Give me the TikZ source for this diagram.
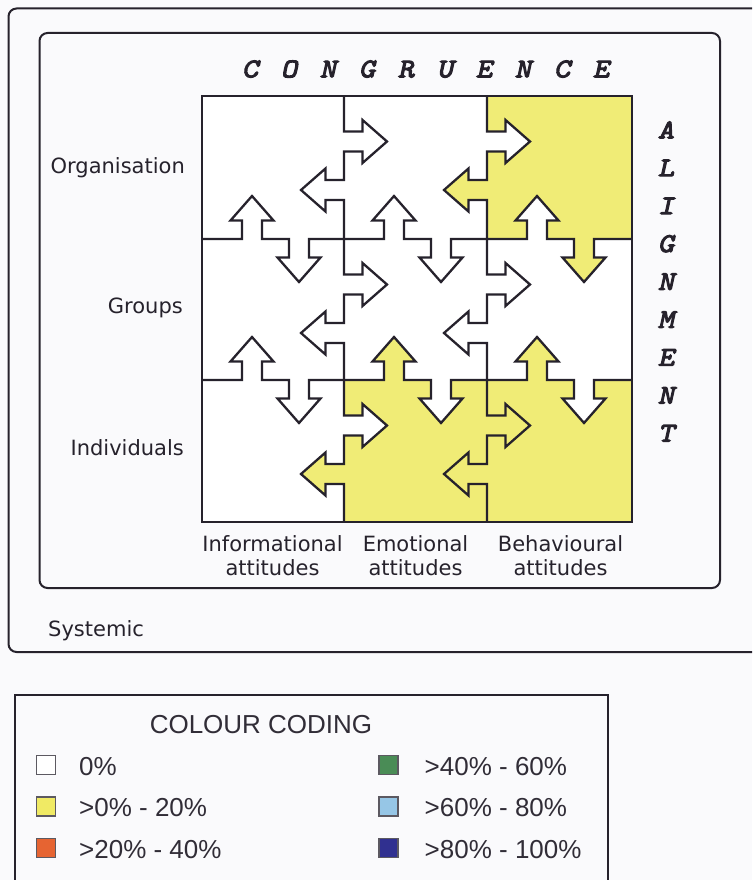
\documentclass[tikz,border=0pt]{standalone}
\usepackage{fontspec}
\setmainfont{DejaVu Sans}
\newfontfamily\keyfamily{Liberation Sans}
\newfontfamily\headfamily{lmmono10-regular}[Extension=.otf, FakeBold=4, FakeSlant=0.22, FakeStretch=1.15]

\definecolor{ink}{RGB}{38,34,44}
\definecolor{paper}{RGB}{250,250,252}
\definecolor{cellyellow}{RGB}{240,236,118}
\definecolor{keyyellow}{RGB}{240,234,100}
\definecolor{keyorange}{RGB}{230,100,50}
\definecolor{keygreen}{RGB}{74,140,86}
\definecolor{keylight}{RGB}{150,198,230}
\definecolor{keynavy}{RGB}{48,48,144}

% arrow-tab dimensions (shaft half width, shaft length, head half width, tip length)
\def\ShW{10}
\def\ShL{18.5}
\def\HdW{21.5}
\def\TpL{43}

% vertical boundary inside one row: x, row top, row bottom
\newcommand\VSeg[3]{%
  \draw[gridline] (#1,#2) -- (#1,#2+45.5-\ShW) -- (#1+\ShL,#2+45.5-\ShW)
    -- (#1+\ShL,#2+45.5-\HdW) -- (#1+\TpL,#2+45.5) -- (#1+\ShL,#2+45.5+\HdW)
    -- (#1+\ShL,#2+45.5+\ShW) -- (#1,#2+45.5+\ShW) -- (#1,#2+94-\ShW)
    -- (#1-\ShL,#2+94-\ShW) -- (#1-\ShL,#2+94-\HdW) -- (#1-\TpL,#2+94)
    -- (#1-\ShL,#2+94+\HdW) -- (#1-\ShL,#2+94+\ShW) -- (#1,#2+94+\ShW) -- (#1,#3);}

% horizontal boundary inside one column: y, column left, column right
\newcommand\HSeg[3]{%
  \draw[gridline] (#2,#1) -- (#2+50-\ShW,#1) -- (#2+50-\ShW,#1-\ShL)
    -- (#2+50-\HdW,#1-\ShL) -- (#2+50,#1-\TpL) -- (#2+50+\HdW,#1-\ShL)
    -- (#2+50+\ShW,#1-\ShL) -- (#2+50+\ShW,#1) -- (#2+97-\ShW,#1)
    -- (#2+97-\ShW,#1+\ShL) -- (#2+97-\HdW,#1+\ShL) -- (#2+97,#1+\TpL)
    -- (#2+97+\HdW,#1+\ShL) -- (#2+97+\ShW,#1+\ShL) -- (#2+97+\ShW,#1) -- (#3,#1);}

% filled tabs: base point on the boundary, colour
\newcommand\TabRight[3]{\fill[#3] (#1-1.5,#2-\ShW) -- (#1+\ShL,#2-\ShW) -- (#1+\ShL,#2-\HdW)
  -- (#1+\TpL,#2) -- (#1+\ShL,#2+\HdW) -- (#1+\ShL,#2+\ShW) -- (#1-1.5,#2+\ShW) -- cycle;}
\newcommand\TabLeft[3]{\fill[#3] (#1+1.5,#2-\ShW) -- (#1-\ShL,#2-\ShW) -- (#1-\ShL,#2-\HdW)
  -- (#1-\TpL,#2) -- (#1-\ShL,#2+\HdW) -- (#1-\ShL,#2+\ShW) -- (#1+1.5,#2+\ShW) -- cycle;}
\newcommand\TabUp[3]{\fill[#3] (#1-\ShW,#2+1.5) -- (#1-\ShW,#2-\ShL) -- (#1-\HdW,#2-\ShL)
  -- (#1,#2-\TpL) -- (#1+\HdW,#2-\ShL) -- (#1+\ShW,#2-\ShL) -- (#1+\ShW,#2+1.5) -- cycle;}
\newcommand\TabDown[3]{\fill[#3] (#1-\ShW,#2-1.5) -- (#1-\ShW,#2+\ShL) -- (#1-\HdW,#2+\ShL)
  -- (#1,#2+\TpL) -- (#1+\HdW,#2+\ShL) -- (#1+\ShW,#2+\ShL) -- (#1+\ShW,#2-1.5) -- cycle;}

\newcommand\LabFont{\fontsize{21}{25}\selectfont}
\newcommand\HeadFont{\headfamily\fontsize{27}{30}\selectfont}
\newcommand\KeyFont{\keyfamily\fontsize{26}{30}\selectfont}

\tikzset{
  gridline/.style={draw=ink, line width=2.3, line join=miter},
  framebox/.style={draw=ink, line width=2, rounded corners=8},
  keyframe/.style={draw=ink, line width=2},
  rowlab/.style={anchor=base east, inner sep=0, font=\LabFont, text=ink},
  collab/.style={anchor=base, inner sep=0, font=\LabFont, text=ink},
  headletter/.style={anchor=base, inner sep=0, font=\HeadFont, text=ink},
  keytext/.style={anchor=base west, inner sep=0, font=\KeyFont, text=ink!95},
  keysq/.style={draw=ink!75, line width=1.2, minimum size=19, inner sep=0},
}

\begin{document}
\begin{tikzpicture}[x=1pt,y=-1pt]
\useasboundingbox (0,0) rectangle (752,880);
\clip (0,0) rectangle (752,880);
\fill[paper] (0,0) rectangle (752,880);

% outer and inner frames
\draw[framebox] (8.5,8.5) rectangle (790,652);
\draw[framebox] (39.5,33) rectangle (720,588);

% cells
\fill[white] (202,96) rectangle (632,522);
\fill[cellyellow] (487,96) rectangle (632,239);
\fill[cellyellow] (344,380) rectangle (632,522);

% tabs whose owner differs in colour from the cell they enter
\TabRight{487}{141.5}{white}
\TabLeft{487}{190}{cellyellow}
\TabRight{344}{425.5}{white}
\TabLeft{344}{474}{cellyellow}
\TabUp{537}{239}{white}
\TabDown{584}{239}{cellyellow}
\TabUp{394}{380}{cellyellow}
\TabDown{441}{380}{white}
\TabUp{537}{380}{cellyellow}
\TabDown{584}{380}{white}

% puzzle boundaries
\foreach \X in {344,487} {
  \foreach \T/\B in {96/239,239/380,380/522} {\VSeg{\X}{\T}{\B}}
}
\foreach \Y in {239,380} {
  \foreach \L/\R in {202/344,344/487,487/632} {\HSeg{\Y}{\L}{\R}}
}
\draw[gridline] (202,96) rectangle (632,522);

% axis headings
\foreach \ch [count=\i from 0] in {C,O,N,G,R,U,E,N,C,E}
  \node[headletter] (cong\i) at (250+\i*39,77.3) {\ch};
\foreach \ch [count=\i from 0] in {A,L,I,G,N,M,E,N,T}
  \node[headletter] (alig\i) at (666,138.3+\i*37.9) {\ch};

% row labels
\node[rowlab] (org) at (185,173) {Organisation};
\node[rowlab] (grp) at (183,313) {Groups};
\node[rowlab] (ind) at (184,455) {Individuals};

% column labels
\node[collab] (infoA) at (272.5,551) {Informational};
\node[collab] (infoB) at (272.5,575) {attitudes};
\node[collab] (emoA) at (415.5,551) {Emotional};
\node[collab] (emoB) at (415.5,575) {attitudes};
\node[collab] (behA) at (560.5,551) {Behavioural};
\node[collab] (behB) at (560.5,575) {attitudes};

\node[anchor=base west, inner sep=0, font=\LabFont, text=ink] (sys) at (48,636.5) {Systemic};

% colour key
\draw[keyframe] (14.5,695) rectangle (608,900);
\node[anchor=base, inner sep=0, font=\KeyFont, text=ink!95] (keytitle) at (261,733) {COLOUR CODING};

\node[keysq, fill=white] (sq0) at (46,765) {};
\node[keysq, fill=keyyellow] (sq1) at (46,806.5) {};
\node[keysq, fill=keyorange] (sq2) at (46,848) {};
\node[keysq, fill=keygreen] (sq3) at (388.5,765) {};
\node[keysq, fill=keylight] (sq4) at (388.5,806.5) {};
\node[keysq, fill=keynavy] (sq5) at (388.5,848) {};

\node[keytext] (kt0) at (79,775) {0\%};
\node[keytext] (kt1) at (79,816.5) {>0\% - 20\%};
\node[keytext] (kt2) at (79,858) {>20\% - 40\%};
\node[keytext] (kt3) at (424.5,775) {>40\% - 60\%};
\node[keytext] (kt4) at (424.5,816.5) {>60\% - 80\%};
\node[keytext] (kt5) at (424.5,858) {>80\% - 100\%};
\end{tikzpicture}
\end{document}
